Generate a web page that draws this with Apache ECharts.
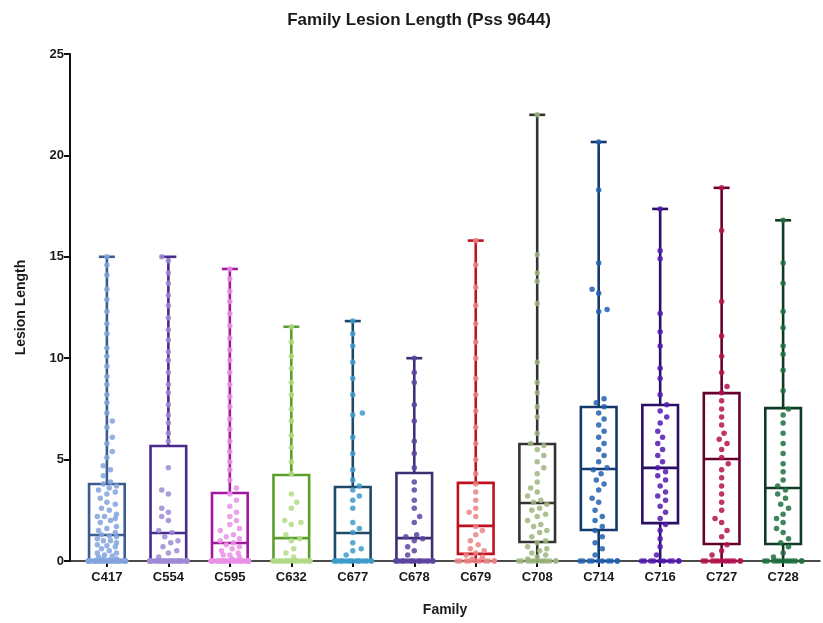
<!DOCTYPE html>
<html>
<head>
<meta charset="utf-8">
<title>Family Lesion Length (Pss 9644)</title>
<script src="https://cdn.jsdelivr.net/npm/echarts@6/dist/echarts.min.js"></script>
<style>
  html, body { margin: 0; padding: 0; background: #ffffff; }
  #chart { width: 823px; height: 623px; }
</style>
</head>
<body>
<div id="chart"></div>
<script>
// Families on the x axis
const families = ['C417', 'C554', 'C595', 'C632', 'C677', 'C678', 'C679', 'C708', 'C714', 'C716', 'C727', 'C728'];

// Box summaries: whisker ends (min / max), quartiles and median
const boxMin    = [0, 0, 0, 0, 0, 0, 0, 0, 0, 0, 0, 0];
const boxQ1     = [0, 0, 0, 0, 0, 0, 0.35, 0.94, 1.53, 1.87, 0.84, 0.84];
const boxMedian = [1.28, 1.38, 0.89, 1.13, 1.38, 1.13, 1.73, 2.86, 4.54, 4.59, 5.03, 3.6];
const boxQ3     = [3.8, 5.67, 3.35, 4.24, 3.65, 4.34, 3.85, 5.77, 7.59, 7.69, 8.28, 7.54];
const boxMax    = [15.0, 15.0, 14.4, 11.55, 11.83, 10.0, 15.8, 22.0, 20.66, 17.36, 18.4, 16.8];

// Individual lesion lengths per family
const c417 = [0,0,0,0,0,0,0,0,0,0,0,0,0,0,0,0,0,0,0,0,0,0,0,0,0,0,0,0,0,0,
  0.05,0.1,0.1,0.2,0.25,0.3,0.4,0.4,0.5,0.6,0.7,0.75,0.8,0.9,1.0,1.0,1.1,1.2,1.25,1.3,
  1.4,1.5,1.6,1.7,1.9,2.0,2.1,2.2,2.2,2.3,2.5,2.6,2.8,2.9,3.1,3.3,3.4,3.5,3.6,3.7,3.8,
  3.9,4.2,4.5,4.7,5.1,5.4,5.8,6.1,6.6,6.9,7.3,7.8,8.2,8.7,9.1,9.6,10.1,10.5,11.2,11.7,12.3,12.9,13.4,14.1,14.6,15.0];
const c554 = [0,0,0,0,0,0,0,0,0,0,0,0,0,0,0,0,0,0,0,0,0,0,0,0,0,0,0,0,
  0.2,0.4,0.5,0.7,0.9,1.0,1.2,1.4,1.5,2.0,2.2,2.4,2.6,3.3,3.5,4.6,
  5.9,6.3,6.8,7.2,7.7,8.3,8.7,9.3,9.9,10.3,10.9,11.4,12.0,12.6,13.1,13.7,14.2,14.8,15.0];
const c595 = [0,0,0,0,0,0,0,0,0,0,0,0,0,0,0,0,0,0,0,0,0,0,0,0,0,0,0,0,0,0,
  0.1,0.2,0.3,0.3,0.4,0.5,0.6,0.7,0.8,0.9,1.0,1.1,1.2,1.3,1.5,1.6,1.8,2.0,2.2,2.4,2.7,3.0,3.3,
  3.6,4.0,4.5,4.9,5.4,5.9,6.5,7.0,7.6,8.1,8.7,9.3,9.9,10.4,11.0,11.6,12.2,12.8,13.3,13.9,14.4];
const c632 = [0,0,0,0,0,0,0,0,0,0,0,0,0,0,0,0,0,0,0,0,
  0.2,0.4,0.6,1.0,1.1,1.3,1.8,1.9,2.0,2.6,2.9,3.3,
  4.3,4.9,5.6,6.2,6.9,7.5,8.2,8.8,9.5,10.1,10.8,11.55];
const c677 = [0,0,0,0,0,0,0,0,0,0,0,0,0,0,0,0,0,0,
  0.3,0.5,0.6,0.9,1.4,1.6,1.9,2.6,3.0,3.2,3.5,3.7,
  4.0,4.5,5.3,6.1,7.2,7.3,8.2,9.0,9.8,10.6,11.2,11.83];
const c678 = [0,0,0,0,0,0,0,0,0,0,0,0,0,0,0,0,0,0,
  0.3,0.5,0.7,1.0,1.1,1.2,1.3,1.9,2.2,2.6,3.0,3.5,3.9,
  4.6,5.3,5.9,6.9,7.7,8.8,9.3,10.0];
const c679 = [0,0,0,0,0,0,0,0,0,0,
  0.1,0.2,0.3,0.4,0.5,0.6,0.8,1.0,1.3,1.5,1.7,2.2,2.4,2.6,3.0,3.4,3.8,
  4.3,5.0,5.8,6.6,7.4,8.2,9.0,10.0,10.8,11.7,12.6,13.5,14.6,15.8];
const c708 = [0,0,0,0,0,0,0,0,0,0,0,0,
  0.1,0.2,0.3,0.4,0.5,0.6,0.7,0.9,1.0,1.2,1.4,1.5,1.7,1.8,2.0,2.2,2.3,2.5,2.6,2.8,2.9,
  3.0,3.2,3.4,3.6,3.9,4.3,4.6,4.9,5.2,5.5,5.7,5.8,
  6.3,7.1,7.6,8.3,8.8,9.8,12.7,13.8,14.2,15.1,22.0];
const c714 = [0,0,0,0,0,0,0,0,0,0,
  0.3,0.6,0.9,1.2,1.5,1.7,2.0,2.2,2.5,2.9,3.1,3.5,3.8,4.0,4.3,4.5,
  4.6,4.9,5.2,5.5,5.8,6.1,6.4,6.7,7.0,7.3,7.6,
  7.8,8.0,12.3,12.4,13.2,13.4,14.7,18.3,20.66];
const c716 = [0,0,0,0,0,0,0,0,0,0,
  0.3,0.7,1.1,1.5,1.8,2.1,2.4,2.7,3.0,3.2,3.4,3.7,4.0,4.2,4.4,4.6,
  4.9,5.2,5.5,5.8,6.1,6.4,6.8,7.1,7.4,7.7,
  8.2,9.0,9.5,10.6,11.3,12.2,14.9,15.3,17.36];
const c727 = [0,0,0,0,0,0,0,0,0,0,0,0,
  0.3,0.5,0.8,1.2,1.5,1.9,2.1,2.5,2.9,3.3,3.7,4.1,4.5,4.8,5.1,
  5.5,5.8,6.0,6.3,6.7,7.1,7.5,7.9,8.3,
  8.6,9.3,10.1,11.1,12.8,16.3,18.4];
const c728 = [0,0,0,0,0,0,0,0,0,0,0,0,
  0.2,0.4,0.7,0.9,1.1,1.4,1.6,1.9,2.1,2.3,2.6,2.8,3.1,3.3,3.5,3.7,
  4.0,4.4,4.8,5.3,5.8,6.3,6.8,7.2,7.5,
  8.4,9.4,10.2,10.6,11.5,12.3,13.7,14.7,16.8];
const familyPoints = [c417, c554, c595, c632, c677, c678, c679, c708, c714, c716, c727, c728];

// Y axis ticks
const yTicks = [0, 5, 10, 15, 20, 25];

// Outline colour of each box and fill colour of its dots
const boxColors = ['#3b5c8c', '#4a2a8c', '#a3169e', '#5c9e2e', '#1e4a68', '#3d2f74',
                   '#bf1120', '#333333', '#14396b', '#2a0f66', '#66012e', '#0f3b23'];
const dotColors = ['#82a3de', '#9d8bd6', '#e991e6', '#b3da86', '#3d9ccb', '#5d43a0',
                   '#eb8585', '#9cb67e', '#2160b0', '#5417b0', '#b5124d', '#1f7040'];

// Beeswarm placement: each dot goes to the nearest sideways slot that
// does not collide with a dot already placed (distances in pixels).
// Zeros may spread across the whole box; other values stay in a narrow column.
const PX_X = 61.5, PX_Y = 20.28;
function swarm(values, center) {
  const gap = 7.5, step = 3;
  const placed = [];
  return values.slice().sort((a, b) => a - b).map((v, n) => {
    const maxSlot = v === 0 ? 6 : 3;
    const slots = [0];
    for (let k = 1; k <= maxSlot; k++) { slots.push(k, -k); }
    const y = v * PX_Y;
    let best = 0, bestScore = Infinity;
    for (const s of slots) {
      const x = s * step + (s === 0 ? 0 : ((n % 2) ? 0.6 : -0.6));
      let score = 0;
      for (const p of placed) {
        const d = Math.hypot(p[0] - x, p[1] - y);
        if (d < gap) score += gap - d;
      }
      if (score === 0) { best = x; bestScore = 0; break; }
      if (score < bestScore) { bestScore = score; best = x; }
    }
    placed.push([best, y]);
    return [center + best / PX_X, v];
  });
}

function renderBox(params, api) {
  const x = api.value(0);
  const lo = api.coord([x, api.value(1)]);
  const q1 = api.coord([x, api.value(2)]);
  const md = api.coord([x, api.value(3)]);
  const q3 = api.coord([x, api.value(4)]);
  const hi = api.coord([x, api.value(5)]);
  const half = api.size([0.58, 0])[0] / 2;
  const cap = api.size([0.26, 0])[0] / 2;
  const color = boxColors[params.dataIndex];
  const st = { stroke: color, lineWidth: 2.6, fill: null };
  return {
    type: 'group',
    children: [
      { type: 'line', shape: { x1: hi[0], y1: hi[1], x2: q3[0], y2: q3[1] }, style: st },
      { type: 'line', shape: { x1: lo[0], y1: lo[1], x2: q1[0], y2: q1[1] }, style: st },
      { type: 'line', shape: { x1: hi[0] - cap, y1: hi[1], x2: hi[0] + cap, y2: hi[1] }, style: st },
      { type: 'line', shape: { x1: lo[0] - cap, y1: lo[1], x2: lo[0] + cap, y2: lo[1] }, style: st },
      { type: 'rect', shape: { x: q3[0] - half, y: q3[1], width: 2 * half, height: q1[1] - q3[1] },
        style: { stroke: color, lineWidth: 2.6, fill: 'none' } },
      { type: 'line', shape: { x1: md[0] - half, y1: md[1], x2: md[0] + half, y2: md[1] }, style: st }
    ]
  };
}

const boxData = families.map((f, i) => [i, boxMin[i], boxQ1[i], boxMedian[i], boxQ3[i], boxMax[i]]);
const idx = families.map((f, i) => i);

const font = 'Liberation Sans, Arial, Helvetica, sans-serif';

const series = [{
  type: 'custom',
  renderItem: renderBox,
  data: boxData,
  encode: { x: 0, y: [1, 2, 3, 4, 5] },
  z: 2,
  clip: false
}];
familyPoints.forEach((pts, i) => {
  series.push({
    type: 'scatter',
    name: families[i],
    data: swarm(pts, i),
    symbol: 'circle',
    symbolSize: 5.5,
    itemStyle: { color: dotColors[i], opacity: 0.85 },
    z: 3,
    clip: false,
    silent: true
  });
});

const chart = echarts.init(document.getElementById('chart'), null, { renderer: 'canvas' });
chart.setOption({
  animation: false,
  backgroundColor: '#ffffff',
  title: {
    text: 'Family Lesion Length (Pss 9644)',
    left: 414,
    textAlign: 'center',
    top: 7,
    textStyle: { fontFamily: font, fontSize: 17, fontWeight: 'bold', color: '#1a1a1a' }
  },
  grid: { left: 70, right: 3, top: 54, bottom: 62, containLabel: false },
  xAxis: {
    type: 'value',
    min: -0.6,
    max: 11.6,
    name: 'Family',
    nameLocation: 'middle',
    nameGap: 42,
    nameTextStyle: { fontFamily: font, fontSize: 14, fontWeight: 'bold', color: '#1a1a1a' },
    splitLine: { show: false },
    axisLine: { show: true, onZero: false, lineStyle: { color: '#111', width: 1.5 } },
    axisTick: { show: true, length: 6, customValues: idx, lineStyle: { color: '#111', width: 2 } },
    axisLabel: {
      customValues: idx,
      formatter: v => families[Math.round(v)] || '',
      fontFamily: font, fontSize: 13, fontWeight: 'bold', color: '#1a1a1a', margin: 10
    }
  },
  yAxis: {
    type: 'value',
    min: 0,
    max: 25,
    interval: 5,
    name: 'Lesion Length',
    nameLocation: 'middle',
    nameGap: 42,
    nameTextStyle: { fontFamily: font, fontSize: 14, fontWeight: 'bold', color: '#1a1a1a' },
    splitLine: { show: false },
    axisLine: { show: true, onZero: false, lineStyle: { color: '#111', width: 2 } },
    axisTick: { show: true, length: 6, lineStyle: { color: '#111', width: 2 } },
    axisLabel: {
      formatter: v => (yTicks.indexOf(v) >= 0 ? String(v) : ''),
      fontFamily: font, fontSize: 13, fontWeight: 'bold', color: '#1a1a1a', margin: 6
    }
  },
  series: series
});
</script>
</body>
</html>
